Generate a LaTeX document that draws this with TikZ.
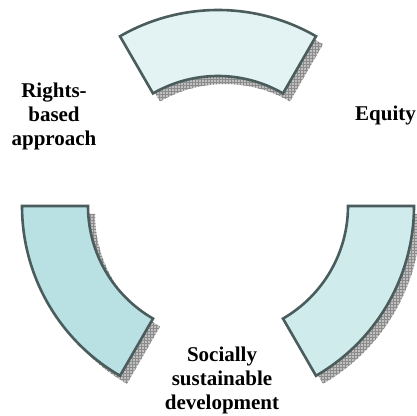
\documentclass[tikz,border=0pt]{standalone}
\usepackage{fontspec}
\setmainfont{Liberation Serif}
\usetikzlibrary{patterns}

\definecolor{rimline}{HTML}{4A5C5C}
\definecolor{topfill}{HTML}{E3F3F3}
\definecolor{leftfill}{HTML}{B9E0E3}
\definecolor{rightfill}{HTML}{D0EBEC}

\newcommand\Rout{196}
\newcommand\Rin{130}
% one piece of the ring, from angle #1 to angle #2
\newcommand\ringpath[2]{(#1:\Rout) arc[start angle=#1,end angle=#2,radius=\Rout] -- (#2:\Rin) arc[start angle=#2,end angle=#1,radius=\Rin] -- cycle}

\tikzset{
  piece/.style={draw=rimline, line width=2.6pt, line join=miter},
  shade/.style={fill=gray!50},
  shadegrid/.style={pattern=grid, pattern color=gray!90},
  label/.style={font=\bfseries\fontsize{21}{24}\selectfont, align=center, inner sep=0pt}
}

\begin{document}
\begin{tikzpicture}[x=1pt,y=1pt]
\useasboundingbox (0,0) rectangle (417,415);
\coordinate (c) at (218,209);

% shadows first
\begin{scope}[shift={(c)}, shift={(7,-8)}]
\foreach \a/\b in {60/120,180/240,300/360}
{
    \fill[shade] \ringpath{\a}{\b};
    \fill[shadegrid] \ringpath{\a}{\b};
}
\end{scope}

% the three pieces
\begin{scope}[shift={(c)}]
\draw[piece, fill=topfill] \ringpath{60}{120};
\draw[piece, fill=leftfill] \ringpath{180}{240};
\draw[piece, fill=rightfill] \ringpath{300}{360};
\end{scope}

\node[label] (rights) at (54,299) {Rights-\\based\\approach};
\node[label, anchor=west] (equity) at (355,300) {Equity};
\node[label] (social) at (222,35) {Socially\\sustainable\\development};
\end{tikzpicture}
\end{document}
